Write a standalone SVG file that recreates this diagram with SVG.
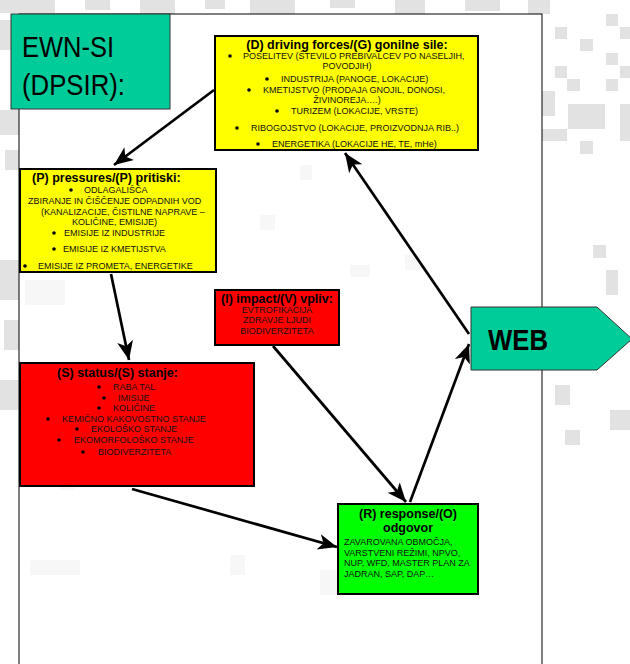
<svg xmlns="http://www.w3.org/2000/svg" width="630" height="664" viewBox="0 0 630 664">
<defs>
<style>
.bg{fill:#e2e2e2}
.bgi{fill:#ececec}
.box{stroke:#000;stroke-width:2}
.t{font-family:"Liberation Sans",Arial,sans-serif;font-size:9px;fill:#111}
.tb{font-family:"Liberation Sans",Arial,sans-serif;font-weight:bold;font-size:12.5px;fill:#000}
.c{text-anchor:middle}
.big{font-family:"Liberation Sans",Arial,sans-serif;fill:#000}
.bul{fill:#000}
.conn{stroke:#000;stroke-width:2.7;fill:none;marker-end:url(#ah)}
</style>
<marker id="ah" markerUnits="userSpaceOnUse" markerWidth="22" markerHeight="18" viewBox="0 -9 22 18" refX="19" refY="0" orient="auto">
<path d="M0,-8 L19,0 L0,8 L5,0 Z" fill="#000"/>
</marker>
</defs>
<rect width="630" height="664" fill="#fff"/>
<g id="background">
<rect class="bg" x="0" y="0" width="55" height="13"/>
<rect class="bg" x="85" y="0" width="25" height="10"/>
<rect class="bg" x="140" y="0" width="35" height="14"/>
<rect class="bg" x="205" y="0" width="20" height="9"/>
<rect class="bg" x="250" y="0" width="45" height="14"/>
<rect class="bg" x="330" y="0" width="25" height="8"/>
<rect class="bg" x="395" y="0" width="30" height="14"/>
<rect class="bg" x="465" y="0" width="35" height="11"/>
<rect class="bg" x="528" y="0" width="22" height="14"/>
<rect class="bg" x="0" y="20" width="12" height="30"/>
<rect class="bg" x="0" y="110" width="19" height="25"/>
<rect class="bg" x="5" y="150" width="14" height="20"/>
<rect class="bg" x="0" y="260" width="19" height="40"/>
<rect class="bg" x="4" y="320" width="15" height="30"/>
<rect class="bg" x="0" y="380" width="19" height="30"/>
<rect class="bg" x="555" y="27" width="12" height="12"/>
<rect class="bg" x="606" y="14" width="12" height="12"/>
<rect class="bg" x="620" y="27" width="10" height="12"/>
<rect class="bg" x="580" y="39" width="13" height="12"/>
<rect class="bg" x="606" y="53" width="12" height="12"/>
<rect class="bg" x="555" y="66" width="12" height="12"/>
<rect class="bg" x="620" y="66" width="10" height="12"/>
<rect class="bg" x="567" y="79" width="13" height="12"/>
<rect class="bg" x="606" y="79" width="12" height="12"/>
<rect class="bg" x="542" y="91" width="13" height="25"/>
<rect class="bg" x="568" y="104" width="37" height="25"/>
<rect class="bg" x="620" y="104" width="10" height="37"/>
<rect class="bg" x="542" y="129" width="25" height="12"/>
<rect class="bg" x="580" y="141" width="13" height="13"/>
<rect class="bg" x="593" y="245" width="13" height="13"/>
<rect class="bg" x="606" y="270" width="12" height="25"/>
<rect class="bg" x="555" y="385" width="15" height="20"/>
<rect class="bg" x="610" y="410" width="20" height="20"/>
<rect class="bg" x="565" y="430" width="15" height="15"/>
<rect class="bgi" x="25" y="280" width="40" height="25"/>
<rect class="bgi" x="60" y="470" width="15" height="20"/>
<rect class="bgi" x="300" y="165" width="12" height="15"/>
<rect class="bgi" x="260" y="215" width="15" height="15"/>
<rect class="bgi" x="350" y="265" width="20" height="12"/>
<rect class="bgi" x="405" y="255" width="15" height="15"/>
<rect class="bgi" x="30" y="560" width="50" height="15"/>
<rect class="bgi" x="230" y="555" width="15" height="20"/>
<rect class="bgi" x="320" y="570" width="20" height="25"/>
</g>
<rect id="page" x="19" y="14" width="523" height="660" fill="#fff" fill-opacity="0.6" stroke="#000" stroke-width="1"/>
<g id="connectors">
<line class="conn" x1="214" y1="90" x2="114" y2="165"/>
<line class="conn" x1="111" y1="274" x2="129" y2="360"/>
<line class="conn" x1="469" y1="334" x2="345" y2="153"/>
<line class="conn" x1="273" y1="346" x2="406" y2="502"/>
<line class="conn" x1="132" y1="489" x2="337" y2="547"/>
<line class="conn" x1="410" y1="502" x2="469" y2="344"/>
</g>
<g id="ewn">
<rect x="11" y="14" width="159" height="95" fill="#00CC99" stroke="#333" stroke-width="1"/>
<text class="big" x="22" y="57" font-size="29" textLength="92" lengthAdjust="spacingAndGlyphs">EWN-SI</text>
<text class="big" x="22" y="95" font-size="29" textLength="103" lengthAdjust="spacingAndGlyphs">(DPSIR):</text>
</g>
<g id="driving">
<rect class="box" x="215" y="36" width="263" height="114" fill="#FFFF00"/>
<text class="tb c" x="347" y="49">(D) driving forces/(G) gonilne sile:</text>
<circle class="bul" cx="230" cy="56" r="1.8"/>
<text class="t" x="243" y="59">POSELITEV (ŠTEVILO PREBIVALCEV PO NASELJIH,</text>
<text class="t c" x="347" y="69">POVODJIH)</text>
<circle class="bul" cx="267" cy="79" r="1.8"/>
<text class="t" x="281" y="82">INDUSTRIJA (PANOGE, LOKACIJE)</text>
<circle class="bul" cx="249" cy="90" r="1.8"/>
<text class="t" x="263" y="93">KMETIJSTVO (PRODAJA GNOJIL, DONOSI,</text>
<text class="t c" x="347" y="103">ŽIVINOREJA….)</text>
<circle class="bul" cx="277" cy="111" r="1.8"/>
<text class="t" x="291" y="114">TURIZEM (LOKACIJE, VRSTE)</text>
<circle class="bul" cx="237" cy="128" r="1.8"/>
<text class="t" x="251" y="131">RIBOGOJSTVO (LOKACIJE, PROIZVODNJA RIB..)</text>
<circle class="bul" cx="258" cy="144" r="1.8"/>
<text class="t" x="272" y="147">ENERGETIKA (LOKACIJE HE, TE, mHe)</text>
</g>
<g id="pressures">
<rect class="box" x="20" y="169" width="196" height="103" fill="#FFFF00"/>
<text class="tb" x="32" y="182">(P) pressures/(P) pritiski:</text>
<circle class="bul" cx="71" cy="190" r="1.8"/>
<text class="t" x="84" y="193">ODLAGALIŠČA</text>
<text class="t" x="28" y="204">ZBIRANJE IN ČIŠČENJE ODPADNIH VOD</text>
<text class="t" x="41" y="215">(KANALIZACIJE, ČISTILNE NAPRAVE –</text>
<text class="t" x="72" y="225">KOLIČINE, EMISIJE)</text>
<circle class="bul" cx="54" cy="233" r="1.8"/>
<text class="t" x="64" y="236">EMISIJE IZ INDUSTRIJE</text>
<circle class="bul" cx="54" cy="249" r="1.8"/>
<text class="t" x="63" y="252">EMISIJE IZ KMETIJSTVA</text>
<circle class="bul" cx="25" cy="266" r="1.8"/>
<text class="t" x="38" y="269">EMISIJE IZ PROMETA, ENERGETIKE</text>
</g>
<g id="impact">
<rect class="box" x="215" y="290" width="124" height="55" fill="#FF0000"/>
<text class="tb c" x="277" y="303">(I) impact/(V) vpliv:</text>
<text class="t c" x="277" y="313" font-size="8">EVTROFIKACIJA</text>
<text class="t c" x="277" y="323" font-size="8">ZDRAVJE LJUDI</text>
<text class="t c" x="277" y="334" font-size="8">BIODIVERZITETA</text>
</g>
<g id="status">
<rect class="box" x="20" y="363" width="234" height="123" fill="#FF0000"/>
<text class="tb" x="57" y="377" font-size="14.5">(S) status/(S) stanje:</text>
<circle class="bul" cx="99" cy="387" r="1.8"/>
<text class="t" x="113" y="390">RABA TAL</text>
<circle class="bul" cx="104" cy="398" r="1.8"/>
<text class="t" x="118" y="401">IMISIJE</text>
<circle class="bul" cx="99" cy="408" r="1.8"/>
<text class="t" x="113" y="411">KOLIČINE</text>
<circle class="bul" cx="48" cy="419" r="1.8"/>
<text class="t" x="62" y="422">KEMIČNO KAKOVOSTNO STANJE</text>
<circle class="bul" cx="77" cy="429" r="1.8"/>
<text class="t" x="91" y="432">EKOLOŠKO STANJE</text>
<circle class="bul" cx="59" cy="440" r="1.8"/>
<text class="t" x="74" y="443">EKOMORFOLOŠKO STANJE</text>
<circle class="bul" cx="83" cy="452" r="1.8"/>
<text class="t" x="98" y="455">BIODIVERZITETA</text>
</g>
<g id="response">
<rect class="box" x="338" y="504" width="140" height="90" fill="#00FF00"/>
<text class="tb c" x="408" y="518">(R) response/(O)</text>
<text class="tb c" x="408" y="532">odgovor</text>
<text class="t" x="344" y="545">ZAVAROVANA OBMOČJA,</text>
<text class="t" x="344" y="556">VARSTVENI REŽIMI, NPVO,</text>
<text class="t" x="344" y="566">NUP, WFD, MASTER PLAN ZA</text>
<text class="t" x="344" y="577">JADRAN, SAP, DAP…</text>
</g>
<g id="web">
<polygon points="471,307 597,307 632,339 597,370 471,370" fill="#00CC99" stroke="#333" stroke-width="1"/>
<text class="big" x="488" y="350" font-size="30" font-weight="bold" textLength="60" lengthAdjust="spacingAndGlyphs">WEB</text>
</g>
</svg>
